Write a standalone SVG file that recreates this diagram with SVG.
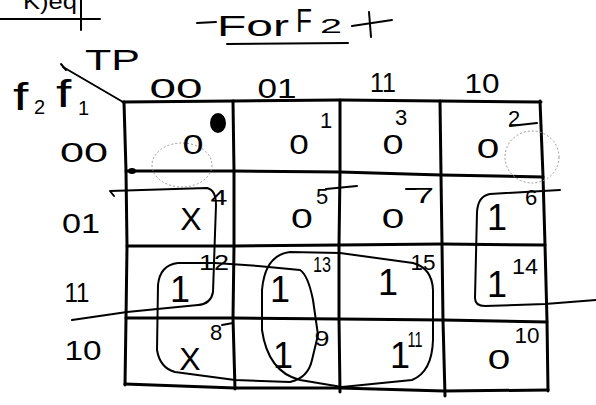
<svg xmlns="http://www.w3.org/2000/svg" width="596" height="405" viewBox="0 0 596 405">
<style>
.t{font-family:"Liberation Sans","DejaVu Sans",sans-serif;fill:#000;}
.v{font-size:27px;text-anchor:middle;}
.one{font-size:36px;text-anchor:middle;}
.x{font-size:32px;text-anchor:middle;}
.i{font-size:22px;text-anchor:middle;}
.h{font-size:28px;text-anchor:middle;}
.g{fill:none;stroke:#000;stroke-width:3;stroke-linecap:round;stroke-linejoin:round;}
.l{fill:none;stroke:#000;stroke-width:2;stroke-linecap:round;stroke-linejoin:round;}
.faint{fill:none;stroke:#9a9a9a;stroke-width:1;stroke-dasharray:2 2;}
</style>
<rect width="596" height="405" fill="#fff"/>

<g id="top-fragment">
<text class="t" x="23" y="9" font-size="22" textLength="54" lengthAdjust="spacingAndGlyphs">K)eq</text>
<line class="l" x1="0" y1="19" x2="100" y2="19" stroke="#444"/>
<line class="l" x1="81" y1="0" x2="81" y2="30"/>
</g>

<g id="title">
<line class="l" x1="197" y1="23" x2="216" y2="22"/>
<text class="t" x="217" y="36" font-size="30" textLength="72" lengthAdjust="spacingAndGlyphs">For</text>
<text class="t" x="296" y="32" font-size="34" textLength="16" lengthAdjust="spacingAndGlyphs">F</text>
<text class="t" x="320" y="33" font-size="20" textLength="22" lengthAdjust="spacingAndGlyphs">2</text>
<line class="l" x1="227" y1="44" x2="348" y2="43" stroke="#555" stroke-width="1.5"/>
</g>
<g id="title-mark">
<line class="l" x1="352" y1="26" x2="392" y2="20" stroke-width="3"/>
<line class="l" x1="369" y1="12" x2="371" y2="37" stroke-width="3"/>
</g>

<g id="axis-labels">
<line class="l" x1="63" y1="67" x2="123" y2="102"/>
<line class="l" x1="61" y1="64" x2="66" y2="70"/>
<text class="t" x="85" y="70" font-size="30" textLength="55" lengthAdjust="spacingAndGlyphs">TP</text>
<text class="t" font-size="38" transform="translate(13,110) scale(1.45,1)">f</text>
<text class="t" x="34" y="114" font-size="20">2</text>
<text class="t" font-size="38" transform="translate(56,107) scale(1.45,1)">f</text>
<text class="t" x="78" y="115" font-size="20">1</text>
</g>

<g id="col-headers">
<text class="t h" x="176" y="98" textLength="53" lengthAdjust="spacingAndGlyphs">00</text>
<text class="t h" x="277" y="98" textLength="39" lengthAdjust="spacingAndGlyphs">01</text>
<text class="t h" x="383" y="92" font-size="28" textLength="26" lengthAdjust="spacingAndGlyphs">11</text>
<text class="t h" x="482" y="93" font-size="28" textLength="35" lengthAdjust="spacingAndGlyphs">10</text>
</g>

<g id="row-headers">
<text class="t h" x="84" y="162" textLength="48" lengthAdjust="spacingAndGlyphs">00</text>
<text class="t h" x="81" y="233" font-size="31" textLength="38" lengthAdjust="spacingAndGlyphs">01</text>
<text class="t h" x="77" y="302" font-size="37" textLength="25" lengthAdjust="spacingAndGlyphs">11</text>
<text class="t h" x="83" y="360" font-size="31" textLength="37" lengthAdjust="spacingAndGlyphs">10</text>
</g>

<g id="grid">
<polyline class="g" points="123,102 233,101 340,100 440,101 541,102"/>
<polyline class="g" points="124,102 126,171 127,246 126,318 125,385"/>
<polyline class="g" points="125,384 235,388 340,388 444,391 548,390"/>
<polyline class="g" points="540,101 543,176 545,245 547,321 548,391"/>
<polyline class="g" points="233,101 234,171 234,246 233,318 235,389"/>
<polyline class="g" points="340,100 340,172 339,245 339,319 340,392"/>
<polyline class="g" points="440,101 441,175 442,244 443,320 445,396"/>
<polyline class="g" points="126,171 234,171 340,172 441,175 543,177" stroke-width="2.5"/>
<polyline class="g" points="127,246 234,246 339,245 442,244 545,245" stroke-width="2.5"/>
<polyline class="g" points="126,318 233,318 339,319 443,320 547,322" stroke-width="2.5"/>
<ellipse cx="132" cy="171" rx="4" ry="3" fill="#000"/>
</g>

<g id="scan-marks">
<ellipse class="faint" cx="182" cy="165" rx="30" ry="22"/>
<ellipse class="faint" cx="532" cy="157" rx="27" ry="26"/>
</g>

<g id="cell-0">
<text class="t v" transform="translate(193,154) scale(1.4,1)">0</text>
<ellipse cx="218" cy="123" rx="8" ry="10" fill="#000"/>
</g>
<g id="cell-1">
<text class="t v" transform="translate(299,154) scale(1.3,1)">0</text>
<text class="t i" x="326" y="128" font-size="26">1</text>
</g>
<g id="cell-3">
<text class="t v" transform="translate(393,154) scale(1.4,1)">0</text>
<text class="t i" x="401" y="125">3</text>
</g>
<g id="cell-2">
<text class="t v" transform="translate(488,158) scale(1.5,1)">0</text>
<text class="t i" x="514" y="126" font-size="20">2</text>
<line class="l" x1="510" y1="126" x2="537" y2="123"/>
</g>
<g id="cell-4">
<text class="t x" x="191" y="230">X</text>
<text class="t i" x="219" y="205" font-size="30" textLength="17" lengthAdjust="spacingAndGlyphs">4</text>
</g>
<g id="cell-5">
<text class="t v" transform="translate(302,228) scale(1.45,1)">0</text>
<text class="t i" x="322" y="204" font-size="20">5</text>
<line class="l" x1="326" y1="189" x2="357" y2="186"/>
</g>
<g id="cell-7">
<text class="t v" transform="translate(393,228) scale(1.5,1)">0</text>
<text class="t i" x="424" y="203" font-size="28" textLength="20" lengthAdjust="spacingAndGlyphs">7</text>
<line class="l" x1="406" y1="189" x2="416" y2="189"/>
</g>
<g id="cell-6">
<text class="t one" x="497" y="230">1</text>
<text class="t i" x="531" y="205" font-size="28">6</text>
</g>
<g id="cell-12">
<text class="t one" x="180" y="302" font-size="38">1</text>
<text class="t i" x="214" y="270" font-size="26" textLength="30" lengthAdjust="spacingAndGlyphs">12</text>
</g>
<g id="cell-13">
<text class="t one" x="280" y="302" font-size="34">1</text>
<text class="t i" x="322" y="272" font-size="25" textLength="18" lengthAdjust="spacingAndGlyphs">13</text>
</g>
<g id="cell-15">
<text class="t one" x="388" y="295" font-size="32">1</text>
<text class="t i" x="423" y="270" font-size="24" textLength="25" lengthAdjust="spacingAndGlyphs">15</text>
</g>
<g id="cell-14">
<text class="t one" x="497" y="297" font-size="28">1</text>
<text class="t i" x="525" y="274" font-size="30" textLength="26" lengthAdjust="spacingAndGlyphs">14</text>
</g>
<g id="cell-8">
<text class="t x" x="190" y="370" font-size="36">X</text>
<text class="t i" x="216" y="340" font-size="24">8</text>
<line class="l" x1="222" y1="325" x2="233" y2="323"/>
</g>
<g id="cell-9">
<text class="t one" x="283" y="368" font-size="34">1</text>
<text class="t i" x="322" y="346" font-size="32" textLength="15" lengthAdjust="spacingAndGlyphs">9</text>
</g>
<g id="cell-11">
<text class="t one" x="400" y="368" font-size="36">1</text>
<text class="t i" x="415" y="347" font-size="26" textLength="15" lengthAdjust="spacingAndGlyphs">11</text>
</g>
<g id="cell-10">
<text class="t v" transform="translate(499,369) scale(1.5,1)">0</text>
<text class="t i" x="527" y="343" font-size="22" textLength="25" lengthAdjust="spacingAndGlyphs">10</text>
</g>

<g id="connectors">
<path class="l" d="M300,270 L258,266 L215,263 L178,263 Q160,265 158,285 L157,350 Q160,368 175,372 L235,380 L290,382 Q308,378 312,360 L318,335 L313,300 Q308,275 300,270 Z"/>
<path class="l" d="M262,330 L262,290 Q265,255 290,252 L340,253 L413,263 Q432,268 433,290 L433,340 Q432,372 412,380 L342,387 L300,380 Q268,372 262,330 Z"/>
<path class="l" d="M114,196 L110,191 L207,188 Q216,190 216,205 L213,292 Q211,304 198,305 L127,312 L72,320"/>
<path class="l" d="M560,190 L490,194 Q478,196 477,212 L475,298 Q475,306 485,306 L545,304 L596,300"/>
</g>
</svg>
